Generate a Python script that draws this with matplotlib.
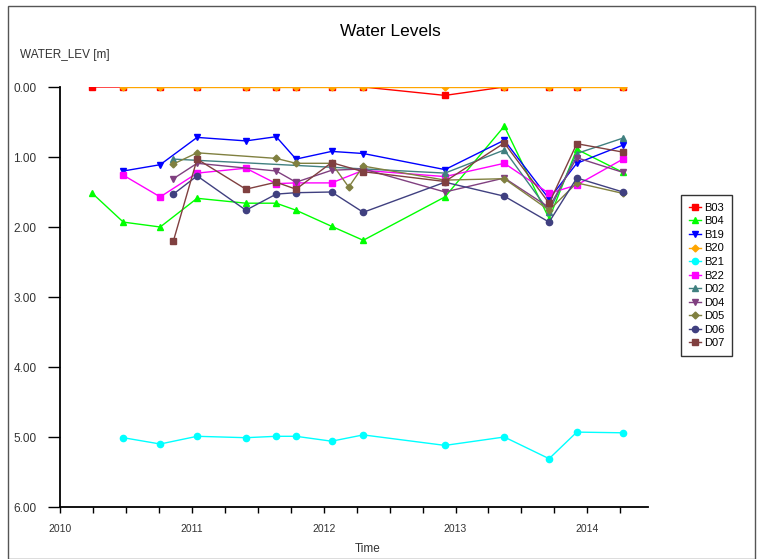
import matplotlib
matplotlib.use("Agg")
import matplotlib.pyplot as plt
from matplotlib.ticker import MultipleLocator, FormatStrFormatter
from matplotlib.patches import Rectangle

plt.rcParams['font.family'] = ['Liberation Sans', 'DejaVu Sans']

# fechas de medicion (anio decimal)
t_b03 = [2010.24, 2010.48, 2010.76, 2011.04, 2011.41, 2011.64, 2011.79, 2012.06, 2012.30,
         2012.92, 2013.37, 2013.71, 2013.92, 2014.27]
t_main = t_b03[1:]

b03 = [0.0, 0.0, 0.0, 0.0, 0.0, 0.0, 0.0, 0.0, 0.0, 0.12, 0.0, 0.0, 0.0, 0.0]
b04 = [1.51, 1.93, 2.00, 1.59, 1.66, 1.66, 1.76, 1.99, 2.19, 1.57, 0.56, 1.88, 0.89, 1.22]
b19 = [1.20, 1.11, 0.72, 0.77, 0.71, 1.03, 0.92, 0.95, 1.18, 0.76, 1.60, 1.09, 0.83]
b20 = [0.0, 0.0, 0.0, 0.0, 0.0, 0.0, 0.0, 0.0, 0.0, 0.0, 0.0, 0.0, 0.0]
b21 = [5.01, 5.10, 4.99, 5.01, 4.99, 4.99, 5.06, 4.97, 5.12, 5.00, 5.31, 4.93, 4.94]
b22 = [1.26, 1.57, 1.23, 1.16, 1.38, 1.37, 1.37, 1.19, 1.28, 1.09, 1.52, 1.40, 1.03]

t_d02 = [2010.86, 2012.92, 2013.37, 2013.71, 2013.92, 2014.27]
d02 = [1.03, 1.23, 0.90, 1.78, 0.95, 0.73]

t_d04 = [2010.86, 2011.04, 2011.64, 2011.79, 2012.06, 2012.30, 2012.92, 2013.37, 2013.71,
         2013.92, 2014.27]
d04 = [1.31, 1.09, 1.20, 1.36, 1.19, 1.17, 1.50, 1.30, 1.72, 1.01, 1.22]

t_d05 = [2010.86, 2011.04, 2011.64, 2011.79, 2012.06, 2012.19, 2012.30, 2012.92, 2013.37,
         2013.71, 2013.92, 2014.27]
d05 = [1.10, 0.94, 1.02, 1.09, 1.09, 1.43, 1.13, 1.33, 1.31, 1.76, 1.37, 1.52]

t_d06 = [2010.86, 2011.04, 2011.41, 2011.64, 2011.79, 2012.06, 2012.30, 2012.92, 2013.37,
         2013.71, 2013.92, 2014.27]
d06 = [1.53, 1.27, 1.76, 1.53, 1.51, 1.50, 1.79, 1.36, 1.56, 1.93, 1.30, 1.50]

t_d07 = [2010.86, 2011.04, 2011.41, 2011.64, 2011.79, 2012.06, 2012.30, 2012.92, 2013.37,
         2013.71, 2013.92, 2014.27]
d07 = [2.20, 1.03, 1.46, 1.36, 1.46, 1.08, 1.21, 1.35, 0.80, 1.66, 0.81, 0.93]

series = [
    ("B03", t_b03, b03, "#ff0000", "s"),
    ("B04", t_b03, b04, "#00ff00", "^"),
    ("B19", t_main, b19, "#0000ff", "v"),
    ("B20", t_main, b20, "#ffa500", "D"),
    ("B21", t_main, b21, "#00ffff", "o"),
    ("B22", t_main, b22, "#ff00ff", "s"),
    ("D02", t_d02, d02, "#408080", "^"),
    ("D04", t_d04, d04, "#804080", "v"),
    ("D05", t_d05, d05, "#808040", "D"),
    ("D06", t_d06, d06, "#404080", "o"),
    ("D07", t_d07, d07, "#804040", "s"),
]

fig = plt.figure(figsize=(7.63, 5.59), dpi=100)
ax = fig.add_axes([60 / 763, 52 / 559, 588 / 763, 420 / 559])

for name, t, v, c, m in series:
    ms = 4.5 if m in ("s", "o", "^", "v") else 3.5
    ax.plot(t, v, color=c, marker=m, markersize=ms, lw=1, label=name)

ax.set_xlim(2010, 2014.46)
ax.set_ylim(6, 0)
ax.xaxis.set_major_locator(MultipleLocator(1))
ax.xaxis.set_minor_locator(MultipleLocator(0.25))
ax.xaxis.set_major_formatter(FormatStrFormatter("%d"))
ax.yaxis.set_major_locator(MultipleLocator(1))
ax.yaxis.set_major_formatter(FormatStrFormatter("%.2f"))

ax.spines["top"].set_visible(False)
ax.spines["right"].set_visible(False)
ax.spines["left"].set_linewidth(1.3)
ax.spines["bottom"].set_linewidth(1.3)
ax.tick_params(axis="y", direction="out", length=9, width=1, labelsize=8.5, pad=8,
               labelcolor="#333333")
ax.tick_params(axis="x", which="major", direction="out", length=4, width=1, labelsize=7.5,
               pad=8, labelcolor="#333333")
ax.tick_params(axis="x", which="minor", direction="out", length=4, width=1)

fig.text(390 / 763, 1 - 31 / 559, "Water Levels", ha="center", va="center", fontsize=12.5)
fig.text(20 / 763, 1 - 55 / 559, "WATER_LEV [m]", ha="left", va="center", fontsize=8.5,
         color="#333333")
fig.text(368 / 763, 1 - 549 / 559, "Time", ha="center", va="center", fontsize=8.5,
         color="#333333")

leg = ax.legend(loc="upper left", bbox_to_anchor=(681 / 763, 1 - 195 / 559),
                bbox_transform=fig.transFigure, fontsize=8, frameon=True, fancybox=False,
                handlelength=1.1, handletextpad=0.3, labelspacing=0.32, borderpad=0.7,
                borderaxespad=0)
leg.get_frame().set_edgecolor("black")
leg.get_frame().set_linewidth(1)

fig.patches.append(Rectangle((8 / 763, 0), 747 / 763, 1 - 6 / 559, transform=fig.transFigure,
                             fill=False, edgecolor="#555555", lw=1))

fig.savefig("out.png", dpi=100)
